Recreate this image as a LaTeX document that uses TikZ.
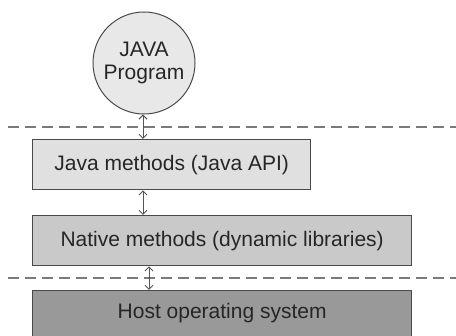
\documentclass[tikz,border=0pt]{standalone}
\usepackage{fontspec}
\setmainfont{Liberation Sans}
\usetikzlibrary{arrows.meta}
\definecolor{txt}{HTML}{262626}
\definecolor{edge}{HTML}{4A4A4A}
\definecolor{link}{HTML}{555555}
\definecolor{sep}{HTML}{7A7A7A}
\begin{document}
\begin{tikzpicture}[x=1pt,y=-1pt,
  every node/.style={font=\fontsize{21}{25}\selectfont, text=txt},
  layer/.style={draw=edge, line width=1.3pt, minimum height=50pt, inner sep=0pt, anchor=north west},
  program/.style={circle, draw=edge, line width=1pt, fill=black!9, minimum size=102pt, inner sep=0pt, align=center},
  calls/.style={draw=link, line width=1pt, {Straight Barb[length=4pt,width=8pt]}-{Straight Barb[length=4pt,width=8pt]}},
  boundary/.style={draw=sep, line width=1.4pt, dash pattern=on 11pt off 6pt}]
\useasboundingbox (0,0) rectangle (456,336);
\begin{scope}
\clip (0,0) rectangle (456,336);

% layers of the stack
\node[program] (prog) at (144,63) {JAVA\\[-2pt]Program};
\node[layer, fill=black!12, minimum width=278pt] (api) at (32,139) {};
\node at (api.center) {Java methods (Java API)};
\node[layer, fill=black!21, minimum width=379pt] (native) at (32,215) {};
\node at (native.center) {Native methods (dynamic libraries)};
\node[layer, fill=black!40, minimum width=379pt, minimum height=60pt] (host) at (32,290) {};
\node at ([yshift=-23pt]host.north) {Host operating system};

% separators between the program, the JVM and the host
\coordinate (s1a) at (8,127);
\coordinate (s1b) at (456,127);
\coordinate (s2a) at (8,278);
\coordinate (s2b) at (456,278);
\draw[boundary] (s1a) -- (s1b);
\draw[boundary] (s2a) -- (s2b);

% calls between layers
\draw[calls] ([xshift=-1pt]prog.south) -- ([xshift=111pt]api.north west);
\draw[calls] ([xshift=111pt]api.south west) -- ([xshift=111pt]native.north west);
\draw[calls] ([xshift=117pt]native.south west) -- ([xshift=117pt]host.north west);
\end{scope}
\end{tikzpicture}
\end{document}
